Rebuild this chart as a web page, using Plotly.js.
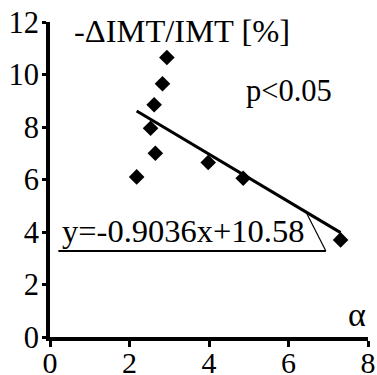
<!DOCTYPE html>
<html>
<head>
<meta charset="utf-8">
<script src="https://cdn.plot.ly/plotly-3.0.1.min.js"></script>
<style>
  html, body { margin: 0; padding: 0; background: #fff; }
  #chart { width: 377px; height: 375px; }
</style>
</head>
<body>
<div id="chart"></div>
<script>
// measured points
var alpha = [2.18, 2.53, 2.65, 2.62, 2.83, 2.94, 3.98, 4.86, 7.31];
var dImt = [6.1, 7.95, 7.0, 8.85, 9.65, 10.65, 6.65, 6.05, 3.7];

// fit from the picture
var slope = -0.9036;
var intercept = 10.58;
var eqText = 'y=-0.9036x+10.58';

var xTicks = [0, 2, 4, 6, 8];
var yTicks = [0, 2, 4, 6, 8, 10, 12];

// callout under the equation
var calloutX = [0.21, 6.94, 6.44];
var calloutY = 3.28;

var FONT = '"Liberation Serif", "Times New Roman", serif';

var xMin = Math.min.apply(null, alpha);
var xMax = Math.max.apply(null, alpha);

var points = {
  x: alpha,
  y: dImt,
  mode: 'markers',
  type: 'scatter',
  marker: {symbol: 'diamond', size: 12, color: '#000'},
  hoverinfo: 'skip'
};

var fit = {
  x: [xMin, xMax],
  y: [slope * xMin + intercept, slope * xMax + intercept],
  mode: 'lines',
  type: 'scatter',
  line: {color: '#000', width: 3},
  hoverinfo: 'skip'
};

var layout = {
  width: 377,
  height: 375,
  margin: {l: 50, r: 9, t: 22, b: 38},
  showlegend: false,
  paper_bgcolor: '#fff',
  plot_bgcolor: '#fff',
  font: {family: FONT, size: 30, color: '#000'},
  xaxis: {
    range: [0, 8],
    tickvals: xTicks,
    showgrid: false,
    zeroline: false,
    showline: true,
    linewidth: 4,
    linecolor: '#000',
    ticks: 'outside',
    ticklen: 6,
    tickwidth: 3,
    tickcolor: '#000',
    ticklabelstandoff: -10,
    tickfont: {family: FONT, size: 30, color: '#000'}
  },
  yaxis: {
    range: [0, 12],
    tickvals: yTicks,
    showgrid: false,
    zeroline: false,
    showline: true,
    linewidth: 4,
    linecolor: '#000',
    ticks: 'outside',
    ticklen: 4,
    tickwidth: 3,
    tickcolor: '#000',
    ticklabelstandoff: -3,
    tickfont: {family: FONT, size: 30.5, color: '#000'}
  },
  shapes: [
    {type: 'line', xref: 'x', yref: 'y',
     x0: calloutX[0], y0: calloutY, x1: calloutX[1], y1: calloutY,
     line: {color: '#000', width: 2}},
    {type: 'line', xref: 'x', yref: 'y',
     x0: calloutX[1], y0: calloutY, x1: calloutX[2], y1: slope * calloutX[2] + intercept,
     line: {color: '#000', width: 1.2}}
  ],
  annotations: [
    {text: '-ΔIMT/IMT [%]', xref: 'paper', yref: 'paper', x: 0.07, y: 0.97,
     xanchor: 'left', yanchor: 'middle', showarrow: false,
     font: {family: FONT, size: 32.5, color: '#000'}},
    {text: 'p<0.05', xref: 'paper', yref: 'paper', x: 0.61, y: 0.78,
     xanchor: 'left', yanchor: 'middle', showarrow: false,
     font: {family: FONT, size: 30.5, color: '#000'}},
    {text: eqText, xref: 'x', yref: 'y', x: calloutX[0] + 0.05, y: calloutY,
     xanchor: 'left', yanchor: 'bottom', showarrow: false,
     font: {family: FONT, size: 32.5, color: '#000'}},
    {text: 'α', xref: 'paper', yref: 'paper', x: 1.0, y: 0.005,
     xanchor: 'right', yanchor: 'bottom', showarrow: false,
     font: {family: FONT, size: 34, color: '#000'}}
  ]
};

Plotly.newPlot('chart', [fit, points], layout, {displayModeBar: false, staticPlot: true});
</script>
</body>
</html>
